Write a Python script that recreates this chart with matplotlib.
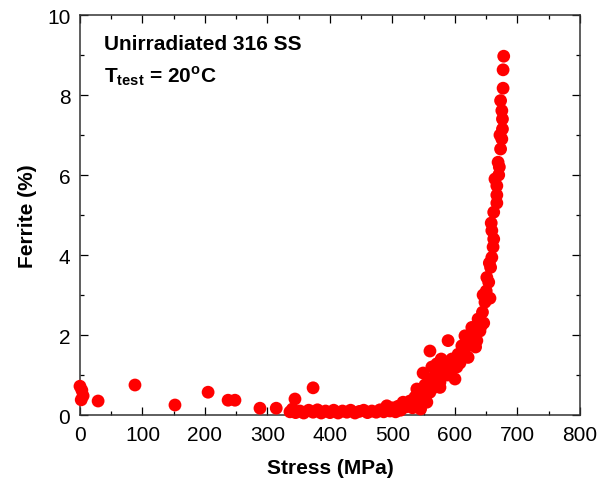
import numpy as np
import matplotlib
matplotlib.use('Agg')
import matplotlib.pyplot as plt
from matplotlib.ticker import MultipleLocator

plt.rcParams['font.family'] = 'Liberation Sans'
plt.rcParams['mathtext.fontset'] = 'custom'
plt.rcParams['mathtext.rm'] = 'Liberation Sans:bold'
plt.rcParams['mathtext.bf'] = 'Liberation Sans:bold'

# low-stress scatter, flat row, rise and steep upper branch
stress_low = [0, 3, 5, 2, 29, 88, 152, 205, 237, 248, 288, 314, 344, 373]
ferrite_low = [0.72, 0.62, 0.48, 0.38, 0.35, 0.75, 0.25, 0.57, 0.37, 0.37, 0.17, 0.17, 0.40, 0.68]

stress_row = [336, 340, 345, 352, 358, 366, 373, 380, 386, 393, 400, 406, 413, 420, 427, 433,
              440, 447, 454, 460, 467, 474, 480, 486, 491, 496, 500, 505, 509, 513, 517, 521,
              525, 528, 532]
ferrite_row = [0.08, 0.15, 0.06, 0.10, 0.05, 0.12, 0.07, 0.13, 0.05, 0.10, 0.06, 0.12, 0.05, 0.10,
               0.07, 0.12, 0.05, 0.09, 0.12, 0.06, 0.10, 0.07, 0.13, 0.08, 0.23, 0.10, 0.18, 0.08,
               0.22, 0.12, 0.32, 0.20, 0.25, 0.35, 0.18]

stress_rise = [536, 539, 542, 545, 548, 549, 552, 555, 558, 560, 560, 563, 565, 568, 571, 573,
               576, 576, 578, 578, 582, 585, 588, 589, 592, 595, 597, 597, 600, 603, 605, 608,
               611, 613, 616, 618, 621, 624, 627, 630, 633, 635, 637, 640, 642, 644, 646, 645,
               648, 650, 651, 654, 656, 657, 655, 659, 658, 659, 661, 662, 662, 664, 667, 667,
               667, 669, 670, 671, 673, 672, 675, 676, 676, 675, 673, 677, 677, 678]
ferrite_rise = [0.45, 0.65, 0.30, 0.15, 0.50, 1.05, 0.75, 0.32, 0.90, 0.57, 1.60, 1.20, 0.90,
                0.70, 1.28, 1.00, 0.82, 0.69, 0.98, 1.40, 1.10, 1.30, 1.00, 1.86, 1.15, 1.40,
                1.32, 1.19, 0.90, 1.20, 1.52, 1.30, 1.73, 1.60, 1.98, 1.70, 1.44, 1.94, 2.19,
                2.00, 1.70, 1.86, 2.40, 2.10, 2.23, 2.57, 2.30, 3.00, 2.82, 3.10, 3.44, 3.32,
                2.92, 3.69, 3.80, 3.94, 4.80, 4.61, 4.20, 4.40, 5.07, 5.90, 5.30, 5.50, 5.73,
                6.32, 6.00, 6.20, 6.65, 7.00, 6.90, 7.15, 7.40, 7.61, 7.86, 8.17, 8.63, 8.97]

stress = np.array(stress_low + stress_row + stress_rise)
ferrite = np.array(ferrite_low + ferrite_row + ferrite_rise)

fig = plt.figure(figsize=(6, 4.81), dpi=100)
ax = fig.add_axes([0.1333, 0.1351, 0.8333, 0.8316])

ax.scatter(stress, ferrite, s=85, color='#ff0000', edgecolors='none', zorder=3, clip_on=False)

ax.set_xlim(0, 800)
ax.set_ylim(0, 10)
ax.xaxis.set_major_locator(MultipleLocator(100))
ax.xaxis.set_minor_locator(MultipleLocator(50))
ax.yaxis.set_major_locator(MultipleLocator(2))
ax.yaxis.set_minor_locator(MultipleLocator(1))
ax.tick_params(which='both', direction='in', top=True, right=True, width=0.9, labelsize=15, pad=7)
ax.tick_params(which='major', length=5.8)
ax.tick_params(which='minor', length=3)
for sp in ax.spines.values():
    sp.set_linewidth(1.1)
    sp.set_color('#333333')

ax.set_xlabel('Stress (MPa)', fontsize=15, fontweight='bold', labelpad=10.5)
ax.set_ylabel('Ferrite (%)', fontsize=15, fontweight='bold', labelpad=7)

ax.text(38, 9.15, 'Unirradiated 316 SS', fontsize=15, fontweight='bold', va='baseline')
ax.text(38, 8.35, r'$\mathregular{T_{test}}$ = 20$^{\mathregular{o}}$C', fontsize=15,
        fontweight='bold', va='baseline')

fig.savefig('out.png', dpi=100)
